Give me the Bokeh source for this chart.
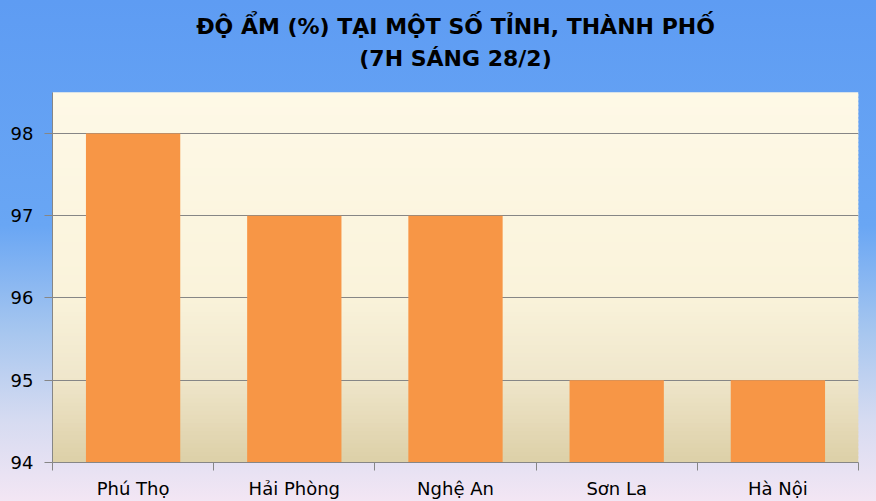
import numpy as np
from bokeh.plotting import figure
from bokeh.models import FixedTicker, BoxAnnotation, Range1d, Label
from bokeh.embed import file_html
from bokeh.resources import INLINE

# ---- data ----
cities = ["Phú Thọ", "Hải Phòng", "Nghệ An", "Sơn La", "Hà Nội"]
humidity = [98, 97, 97, 95, 95]
y_ticks = [94, 95, 96, 97, 98]
title_line1 = "ĐỘ ẨM (%) TẠI MỘT SỐ TỈNH, THÀNH PHỐ"
title_line2 = "(7H SÁNG 28/2)"

n = len(cities)
centers = np.arange(n) + 0.5
y_min, y_max = 94, 98.5

# layout (pixels)
W, H = 876, 501
left_b, right_b, bottom_b = 52, 18, 38
plot_top_px = 92                      # where the cream plot area begins
frame_h = H - bottom_b                # frame reaches the top of the canvas
px_per_unit = (frame_h - plot_top_px) / (y_max - y_min)
y_top = y_max + plot_top_px / px_per_unit

p = figure(width=W, height=H, output_backend="svg", toolbar_location=None,
           x_range=Range1d(0, n), y_range=Range1d(y_min, y_top), title=None,
           min_border_left=left_b, min_border_right=right_b, min_border_top=0, min_border_bottom=bottom_b)

# page background gradient (transparent canvas over CSS gradient)
p.border_fill_alpha = 0
p.background_fill_alpha = 0
p.styles = {"background": "linear-gradient(to bottom, #5e9cf3 0%, #69a6f4 45%, #a6c6ef 66%, #d6dbf1 84%, #f3e6f4 100%)"}
p.outline_line_color = None

# plot-area gradient (overlapping bands to avoid seams)
stops_t = [0.0, 0.55, 0.77, 1.0]
stops_c = [(254, 249, 231), (250, 243, 219), (240, 231, 204), (221, 208, 168)]
nb = 90
edges = np.linspace(y_max, y_min, nb + 1)
step = (y_max - y_min) / nb
for i in range(nb):
    t = (i + 0.5) / nb
    c = [int(round(np.interp(t, stops_t, [s[k] for s in stops_c]))) for k in range(3)]
    p.add_layout(BoxAnnotation(bottom=edges[i + 1], top=edges[i] + 0.6 * step if i > 0 else edges[i],
                               fill_color="#%02x%02x%02x" % tuple(c),
                               fill_alpha=1, line_color=None, level="image"))

# bars
p.vbar(x=centers, top=humidity, bottom=y_min, width=0.585, fill_color="#f79646", line_color=None)

# title (two centred lines)
tfont = "DejaVu Sans"
frame_w = W - left_b - right_b
for txt, cy in [(title_line1, 27), (title_line2, 59)]:
    p.add_layout(Label(x=frame_w / 2, y=frame_h - cy, x_units="screen", y_units="screen", text=txt,
                       text_align="center", text_baseline="middle", text_font=tfont,
                       text_font_style="bold", text_font_size="22px", text_color="#000000"))

# axes
font = "DejaVu Sans"
p.xaxis.ticker = FixedTicker(ticks=list(centers), minor_ticks=list(range(n + 1)))
p.xaxis.major_label_overrides = {float(c): lab for c, lab in zip(centers, cities)}
p.xaxis.major_tick_out = 0
p.xaxis.major_tick_in = 0
p.xaxis.minor_tick_out = 8
p.xaxis.minor_tick_in = 0
p.xaxis.minor_tick_line_color = "#868686"
p.xaxis.axis_line_color = "#868686"
p.xaxis.major_label_text_font = font
p.xaxis.major_label_text_font_size = "18px"
p.xaxis.major_label_text_color = "#000000"
p.xaxis.major_label_standoff = 7

p.yaxis.ticker = FixedTicker(ticks=y_ticks, minor_ticks=[])
p.yaxis.bounds = (y_min, y_max)
p.yaxis.major_tick_out = 8
p.yaxis.major_tick_in = 0
p.yaxis.major_tick_line_color = "#868686"
p.yaxis.axis_line_color = "#868686"
p.yaxis.major_label_text_font = font
p.yaxis.major_label_text_font_size = "18px"
p.yaxis.major_label_text_color = "#000000"
p.yaxis.major_label_standoff = 11

p.xgrid.grid_line_color = None
p.ygrid.ticker = FixedTicker(ticks=y_ticks)
p.ygrid.grid_line_color = "#868686"
p.ygrid.grid_line_width = 1

open("out.html", "w").write(file_html(p, INLINE))
